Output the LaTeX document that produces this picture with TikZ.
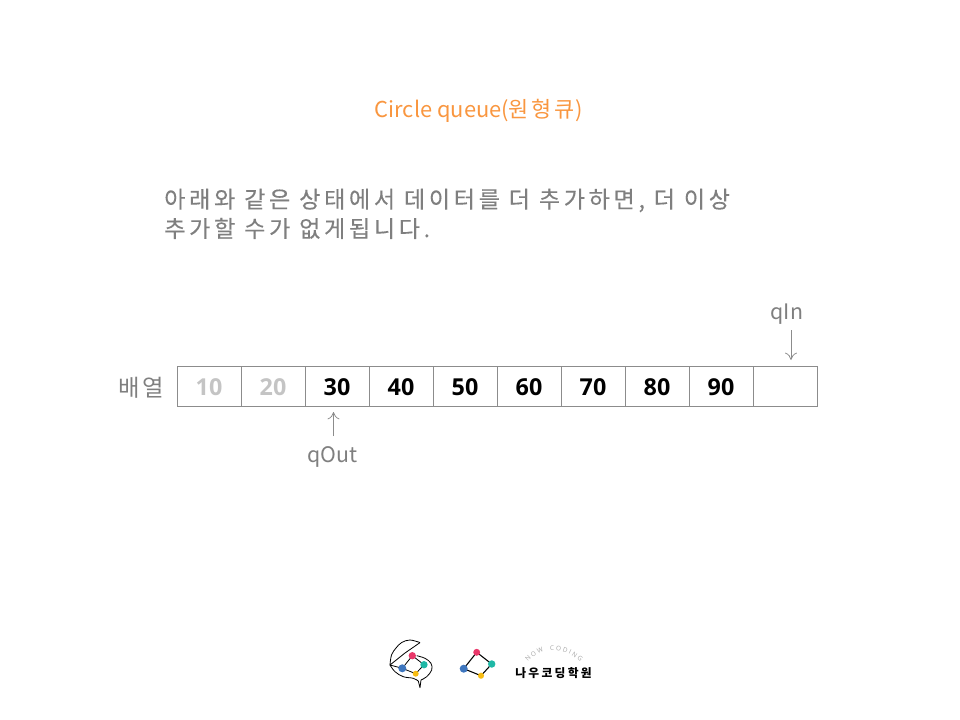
\documentclass[tikz,border=0pt]{standalone}
\usepackage{fontspec}
\usetikzlibrary{decorations.text,arrows.meta}
\newfontfamily\kr{Noto Sans CJK KR}
\newfontfamily\krsp[LetterSpace=16,FakeBold=0.25]{Noto Sans CJK KR}
\newfontfamily\krlab[LetterSpace=12]{Noto Sans CJK KR}
\newfontfamily\krword[LetterSpace=20]{Noto Sans CJK KR}
\newfontfamily\lgtxt{Open Sans}
\definecolor{orangeT}{HTML}{F9963F}
\definecolor{greyT}{HTML}{7F7F7F}
\definecolor{lineG}{HTML}{8C8C8C}
\definecolor{fadeT}{HTML}{C4C4C4}
\definecolor{arcT}{HTML}{A6A6A6}
\definecolor{lpink}{HTML}{E9386A}
\definecolor{lteal}{HTML}{1FB8A6}
\definecolor{lyellow}{HTML}{F7BC12}
\definecolor{lblue}{HTML}{3E76BE}
\tikzset{
  cellbox/.style={draw=lineG,line width=0.6pt,minimum width=48pt,minimum height=30pt,inner sep=0pt,outer sep=0pt,anchor=north west},
  valtxt/.style={font=\lgtxt\bfseries\fontsize{17.5}{18}\selectfont,text=black,text height=14.5pt,text depth=0pt},
  labtxt/.style={font=\kr\fontsize{16}{18}\selectfont,text=greyT},
  ptr/.style={draw=lineG,line width=0.6pt,-{To[length=5.5pt,width=9pt]}},
  bodytxt/.style={font=\krsp\fontsize{17.3}{22}\selectfont,text=greyT,align=left,anchor=north west,inner sep=0pt},
  dotn/.style={circle,inner sep=0pt,minimum size=#1},
  logoline/.style={draw=black,line width=0.6pt}
}
\begin{document}
\begin{tikzpicture}[x=0.75pt,y=-0.75pt]
\useasboundingbox (0,0) rectangle (960,720);
\node[font=\kr\fontsize{16.4}{18}\selectfont,text=orangeT,inner sep=0pt] (title) at (479,110.5) {Circle queue({\krlab 원형큐}\kern1pt)};
\node[bodytxt] (body) at (164,188.5) {아래와 같은 상태에서 데이터를 더 추가하면, 더 이상\\추가할 수가 없게됩니다.};
\node[labtxt,font=\krlab\fontsize{17.5}{18}\selectfont,inner sep=0pt] (arrlab) at (141.5,387.5) {배열};
\node[cellbox,valtxt,text=fadeT] (c0) at (177,366) {10};
\node[cellbox,valtxt,text=fadeT] (c1) at (241,366) {20};
\node[cellbox,valtxt] (c2) at (305,366) {30};
\node[cellbox,valtxt] (c3) at (369,366) {40};
\node[cellbox,valtxt] (c4) at (433,366) {50};
\node[cellbox,valtxt] (c5) at (497,366) {60};
\node[cellbox,valtxt] (c6) at (561,366) {70};
\node[cellbox,valtxt] (c7) at (625,366) {80};
\node[cellbox,valtxt] (c8) at (689,366) {90};
\node[cellbox] (c9) at (753,366) {};
\node[labtxt,inner sep=0pt] (qin) at (787,314) {qIn};
\coordinate (qinS) at (791,330);
\coordinate (qinE) at (791,360);
\draw[ptr] (qinS) -- (qinE);
\node[labtxt,inner sep=0pt] (qout) at (332.5,456.5) {qOut};
\coordinate (qoutS) at (333.5,436);
\coordinate (qoutE) at (333.5,412);
\draw[ptr] (qoutS) -- (qoutE);
% left logo: outline
\draw[line width=0.6pt,black,line join=round] plot[smooth,tension=0.6] coordinates {(390,665) (391.5,655) (396,648) (401.7,642.5) (410,640) (420,642.6)};
\draw[line width=0.6pt,black,line join=round] (420,642.6) -- (405,653) -- (390,665);
\draw[line width=0.6pt,black,line join=round] plot[smooth,tension=0.6] coordinates {(390,665) (395,671.7) (403.3,676.7) (413.3,678.3) (418.3,681)};
\draw[line width=0.6pt,black,line join=round] (418.3,681) -- (420,687.7) -- (421,680);
\draw[line width=0.6pt,black,line join=round] plot[smooth,tension=0.6] coordinates {(421,680) (426.7,676.7) (431.7,670) (431,663.3) (425,658.3) (416.7,655.7)};
\draw[line width=0.6pt,black] (390,665) -- (402.3,668.3);
\draw[logoline] (412.3,655.7) -- (424,664.7) -- (415.7,673.7) -- (402.3,668.3) -- cycle;
\node[dotn=5.5pt,fill=lpink] (lp) at (412.3,655.7) {};
\node[dotn=5.5pt,fill=lteal] (lt) at (424,664.7) {};
\node[dotn=4.5pt,fill=lyellow] (ly) at (415.7,673.7) {};
\node[dotn=6pt,fill=lblue] (lb) at (402.3,668.3) {};
% middle logo
\draw[logoline,line width=0.8pt] (476.7,652.3) -- (491.7,664) -- (481,675.7) -- (463.7,668.7) -- cycle;
\node[dotn=5.2pt,fill=lpink] (mp) at (476.7,652.3) {};
\node[dotn=5.6pt,fill=lteal] (mt) at (491.7,664) {};
\node[dotn=4.6pt,fill=lyellow] (my) at (481,675.7) {};
\node[dotn=6pt,fill=lblue] (mb) at (463.7,668.7) {};
% wordmark
\node[font=\krword\bfseries\fontsize{8.8}{10}\selectfont,text=black,inner sep=0pt] (word) at (553.5,673.5) {나우코딩학원};
\path[decorate,decoration={text along path,text align=center,text={|\lgtxt\fontsize{4.8}{5}\selectfont\color{arcT}|N{\ }O{\ }W{\ }{\ }{\ }{\ }C{\ }O{\ }D{\ }I{\ }N{\ }G}}]
  (527,663) .. controls (541,646) and (566,646) .. (581,663);
\end{tikzpicture}
\end{document}
